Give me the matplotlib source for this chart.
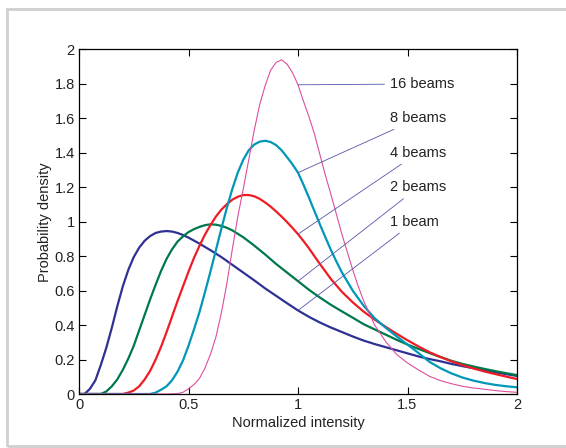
import numpy as np
import matplotlib
matplotlib.use('Agg')
import matplotlib.pyplot as plt
from matplotlib.ticker import MultipleLocator, FuncFormatter
from matplotlib.patches import Rectangle

plt.rcParams['font.family'] = ['Liberation Sans', 'DejaVu Sans']
plt.rcParams['font.size'] = 10.5

# tails share a coarse grid (0.05), steep parts are read every 0.025
tail = [0.55, 0.60, 0.65, 0.70, 0.75, 0.80, 0.85, 0.90, 0.95,
        1.00, 1.05, 1.10, 1.15, 1.20, 1.25, 1.30, 1.35, 1.40, 1.45,
        1.50, 1.55, 1.60, 1.65, 1.70, 1.75, 1.80, 1.85, 1.90, 1.95, 2.00]

# 1 beam
x1 = [0.0, 0.025, 0.05, 0.075, 0.10, 0.125, 0.15, 0.175, 0.20, 0.225,
      0.25, 0.275, 0.30, 0.325, 0.35, 0.375, 0.40, 0.425, 0.45, 0.475,
      0.50] + tail
beam1 = [0.0, 0.0, 0.03, 0.08, 0.17, 0.27, 0.385, 0.51, 0.625, 0.72,
         0.795, 0.85, 0.89, 0.917, 0.935, 0.943, 0.946, 0.943, 0.935, 0.923,
         0.908, 0.873, 0.835, 0.795, 0.75, 0.705, 0.66, 0.613, 0.57, 0.527,
         0.485, 0.448, 0.415, 0.386, 0.36, 0.334, 0.31, 0.29, 0.272, 0.254,
         0.236, 0.218, 0.203, 0.19, 0.175, 0.162, 0.15, 0.138, 0.126, 0.115, 0.105]

# 2 beams
x2 = [0.0, 0.10, 0.125, 0.15, 0.175, 0.20, 0.225, 0.25, 0.275, 0.30,
      0.325, 0.35, 0.375, 0.40, 0.425, 0.45, 0.475, 0.50, 0.525, 0.55,
      0.575, 0.60, 0.625, 0.65, 0.675, 0.70, 0.75, 0.80, 0.85, 0.90,
      0.95] + tail[9:]
beam2 = [0.0, 0.0, 0.015, 0.045, 0.085, 0.14, 0.205, 0.28, 0.37, 0.46,
         0.55, 0.635, 0.715, 0.785, 0.84, 0.885, 0.915, 0.94, 0.957, 0.97,
         0.98, 0.985, 0.983, 0.976, 0.965, 0.95, 0.91, 0.862, 0.81, 0.755,
         0.705, 0.655, 0.605, 0.56, 0.518, 0.48, 0.443, 0.405, 0.375, 0.345, 0.315,
         0.287, 0.262, 0.238, 0.215, 0.193, 0.175, 0.16, 0.146, 0.133, 0.121, 0.11]

# 4 beams
x4 = [0.0, 0.20, 0.225, 0.25, 0.275, 0.30, 0.325, 0.35, 0.375, 0.40,
      0.425, 0.45, 0.475, 0.50, 0.525, 0.55, 0.575, 0.60, 0.625, 0.65,
      0.675, 0.70, 0.725, 0.75, 0.775, 0.80, 0.825, 0.85, 0.875, 0.90,
      0.925, 0.95, 0.975, 1.00, 1.025, 1.05, 1.075] + tail[11:]
beam4 = [0.0, 0.0, 0.008, 0.02, 0.045, 0.085, 0.135, 0.20, 0.275, 0.36,
         0.45, 0.54, 0.625, 0.71, 0.79, 0.86, 0.925, 0.98, 1.03, 1.07,
         1.102, 1.128, 1.145, 1.155, 1.155, 1.148, 1.133, 1.112, 1.088, 1.06,
         1.03, 0.998, 0.964, 0.928, 0.888, 0.846, 0.80,
         0.755, 0.668, 0.594, 0.532, 0.478, 0.432, 0.39, 0.35,
         0.312, 0.276, 0.243, 0.215, 0.19, 0.168, 0.149, 0.131, 0.116, 0.101, 0.087]

# 8 beams
x8 = [0.0, 0.325, 0.35, 0.375, 0.40, 0.425, 0.45, 0.475, 0.50, 0.525,
      0.55, 0.575, 0.60, 0.625, 0.65, 0.675, 0.70, 0.725, 0.75, 0.775,
      0.80, 0.825, 0.85, 0.875, 0.90, 0.925, 0.95, 0.975, 1.00, 1.025,
      1.05, 1.075, 1.10, 1.125, 1.15, 1.175] + tail[13:]
beam8 = [0.0, 0.0, 0.008, 0.025, 0.045, 0.08, 0.13, 0.195, 0.28, 0.375,
         0.475, 0.59, 0.71, 0.835, 0.96, 1.08, 1.19, 1.285, 1.36, 1.415,
         1.448, 1.465, 1.47, 1.463, 1.445, 1.415, 1.375, 1.333, 1.285, 1.215,
         1.14, 1.062, 0.985, 0.91, 0.837, 0.77,
         0.707, 0.6, 0.512, 0.44, 0.385, 0.335,
         0.287, 0.238, 0.187, 0.15, 0.12, 0.096, 0.078, 0.064, 0.053, 0.045, 0.039]

# 16 beams
x16 = [0.0, 0.40, 0.45, 0.475, 0.50, 0.525, 0.55, 0.575, 0.60, 0.625, 0.65, 0.675,
       0.70, 0.725, 0.75, 0.775, 0.80, 0.825, 0.85, 0.875, 0.90, 0.925,
       0.95, 0.975, 1.00, 1.025, 1.05, 1.075, 1.10, 1.125, 1.15, 1.175,
       1.20, 1.225, 1.25, 1.275, 1.30, 1.35, 1.40, 1.45, 1.50, 1.55,
       1.60, 1.65, 1.70, 1.75, 1.80, 1.85, 1.90, 1.95, 2.00]
beam16 = [0.0, 0.0, 0.002, 0.01, 0.03, 0.055, 0.09, 0.15, 0.23, 0.33, 0.47, 0.64,
          0.84, 1.03, 1.19, 1.36, 1.53, 1.68, 1.79, 1.88, 1.925, 1.94,
          1.915, 1.865, 1.795, 1.70, 1.61, 1.51, 1.39, 1.27, 1.16, 1.045,
          0.93, 0.825, 0.72, 0.625, 0.54, 0.40, 0.305, 0.23, 0.18, 0.14,
          0.103, 0.078, 0.06, 0.045, 0.035, 0.028, 0.02, 0.014, 0.01]

labels = ['1 beam', '2 beams', '4 beams', '8 beams', '16 beams']
label_y = [1.0, 1.2, 1.4, 1.6, 1.8]

fig = plt.figure(figsize=(5.66, 4.48), dpi=100)
ax = fig.add_axes([79/566, 54/448, 438/566, 344.5/448])

curves = [(x1, beam1, '#2e3192', 1.6),
          (x2, beam2, '#00794a', 1.6),
          (x4, beam4, '#ef1c24', 1.6),
          (x8, beam8, '#0097b8', 1.6),
          (x16, beam16, '#dc4f9e', 0.8)]

for (xs, ys, c, w), lab, ly in zip(curves, labels, label_y):
    ax.plot(xs, ys, color=c, lw=w)
    # leader line starts on the curve at x = 1
    ax.annotate(lab, xy=(1.0, ys[xs.index(1.0)]), xytext=(1.42, ly),
                va='center', ha='left', color='#222222',
                arrowprops=dict(arrowstyle='-', color='#5555aa', lw=0.6,
                                shrinkA=2, shrinkB=0))

ax.set_xlim(0, 2)
ax.set_ylim(0, 2)
ax.xaxis.set_major_locator(MultipleLocator(0.5))
ax.yaxis.set_major_locator(MultipleLocator(0.2))
fmt = FuncFormatter(lambda v, p: '%g' % round(v, 2))
ax.xaxis.set_major_formatter(fmt)
ax.yaxis.set_major_formatter(fmt)
ax.tick_params(direction='in', top=True, right=True, length=5, width=0.8,
               labelsize=10.5, labelcolor='#222222', pad=3)
for sp in ax.spines.values():
    sp.set_linewidth(0.9)

ax.set_xlabel('Normalized intensity', color='#222222', labelpad=3)
ax.set_ylabel('Probability density', color='#222222', labelpad=2)

# light grey frame around the figure
fig.add_artist(Rectangle((7/566, 2/448), 600/566, 437/448, transform=fig.transFigure,
                         fill=False, edgecolor='#cfcfcf', lw=2.0))

fig.savefig('out.png', dpi=100)
